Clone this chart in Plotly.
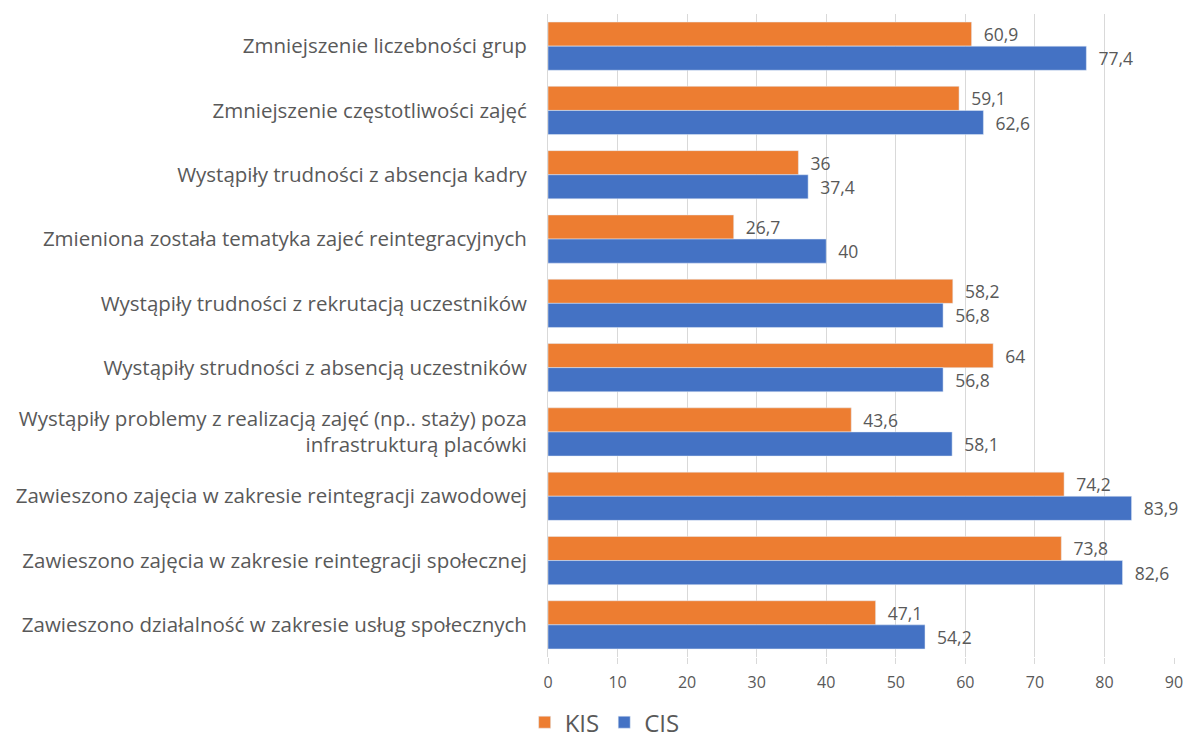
import plotly.graph_objects as go

categories = [
    "Zmniejszenie liczebności grup",
    "Zmniejszenie częstotliwości zajęć",
    "Wystąpiły trudności z absencja kadry",
    "Zmieniona została tematyka zajeć reintegracyjnych",
    "Wystąpiły trudności z rekrutacją uczestników",
    "Wystąpiły strudności z absencją uczestników",
    "Wystąpiły problemy z realizacją zajęć (np.. staży) poza<br>infrastrukturą placówki",
    "Zawieszono zajęcia w zakresie reintegracji zawodowej",
    "Zawieszono zajęcia w zakresie reintegracji społecznej",
    "Zawieszono działalność w zakresie usług społecznych",
]
kis = [60.9, 59.1, 36, 26.7, 58.2, 64, 43.6, 74.2, 73.8, 47.1]
cis = [77.4, 62.6, 37.4, 40, 56.8, 56.8, 58.1, 83.9, 82.6, 54.2]
x_ticks = [0, 10, 20, 30, 40, 50, 60, 70, 80, 90]

FONT = "Open Sans"
GREY = "#595959"


def fmt(v):
    # comma decimal separator, small lead-in gap from the bar end
    return "\u00a0\u00a0" + f"{v:g}".replace(".", ",")


fig = go.Figure()
for name, vals, color in (("KIS", kis, "#ED7D31"), ("CIS", cis, "#4472C4")):
    fig.add_trace(go.Bar(
        name=name, y=categories, x=vals, orientation="h",
        marker=dict(color=color),
        text=[fmt(v) for v in vals], textposition="outside",
        textfont=dict(family=FONT, size=17.5, color=GREY), cliponaxis=False,
    ))

fig.update_layout(
    width=1187, height=740,
    margin=dict(l=548, r=13, t=14, b=83, autoexpand=False),
    barmode="group", bargap=0.25, bargroupgap=0,
    plot_bgcolor="white", paper_bgcolor="white",
    font=dict(family=FONT, color=GREY),
    legend=dict(orientation="h", x=0.442, xref="container", xanchor="left",
                y=-0.102, yref="paper", yanchor="middle",
                font=dict(family=FONT, size=24, color=GREY),
                itemwidth=30, traceorder="normal"),
    showlegend=True,
)
fig.update_xaxes(
    range=[0, 90], tickvals=x_ticks, ticktext=[str(t) for t in x_ticks],
    showgrid=True, gridcolor="#D9D9D9", gridwidth=1,
    zeroline=False, showline=False, automargin=False,
    ticks="outside", ticklen=6, tickcolor="#D9D9D9",
    ticklabelstandoff=5,
    tickfont=dict(family=FONT, size=16, color=GREY),
)
fig.update_yaxes(
    autorange="reversed", showline=True, linecolor="#D9D9D9", linewidth=1,
    showgrid=False, ticks="", ticklabelstandoff=16, automargin=False,
    tickfont=dict(family=FONT, size=20.5, color=GREY),
)

fig.write_html("out.html")
